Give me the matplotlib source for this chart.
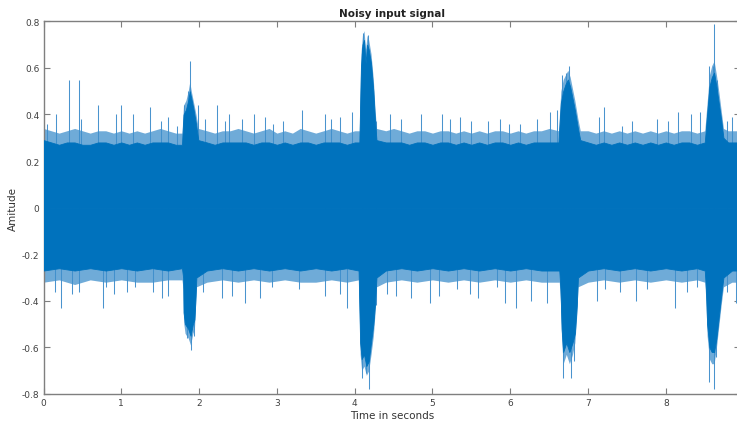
import matplotlib
matplotlib.use("Agg")
import matplotlib.pyplot as plt

# ---- data (seconds, amplitude) ----
# upper envelope of the dense noise band (dark core) and its spiky fringe
env_t_up = [0.0, 0.1, 0.2, 0.3, 0.4, 0.5, 0.6, 0.7, 0.8, 0.9, 1.0, 1.1, 1.2, 1.3, 1.4, 1.5, 1.6, 1.7, 1.78,
            1.80, 1.83, 1.86, 1.88, 1.90, 1.93, 1.96, 1.99,
            2.1, 2.2, 2.3, 2.4, 2.5, 2.6, 2.7, 2.8, 2.9, 3.0, 3.1, 3.2, 3.3, 3.4, 3.5, 3.6, 3.7, 3.8, 3.9, 4.0, 4.06,
            4.08, 4.10, 4.12, 4.14, 4.16, 4.18, 4.21, 4.24, 4.26, 4.28,
            4.4, 4.5, 4.6, 4.7, 4.8, 4.9, 5.0, 5.1, 5.2, 5.3, 5.4, 5.5, 5.6, 5.7, 5.8, 5.9, 6.0, 6.1, 6.2, 6.3, 6.4, 6.5, 6.62,
            6.65, 6.68, 6.71, 6.74, 6.77, 6.80, 6.83, 6.87, 6.90,
            7.0, 7.1, 7.2, 7.3, 7.4, 7.5, 7.6, 7.7, 7.8, 7.9, 8.0, 8.1, 8.2, 8.3, 8.4, 8.5,
            8.53, 8.56, 8.59, 8.62, 8.65, 8.68, 8.71, 8.74, 8.8, 8.9, 8.96]
env_up = [0.29, 0.28, 0.27, 0.28, 0.28, 0.27, 0.27, 0.28, 0.28, 0.27, 0.28, 0.27, 0.28, 0.27, 0.28, 0.28, 0.28, 0.27, 0.27,
          0.40, 0.42, 0.46, 0.50, 0.47, 0.42, 0.36, 0.29,
          0.28, 0.27, 0.28, 0.28, 0.28, 0.28, 0.27, 0.28, 0.28, 0.27, 0.28, 0.27, 0.28, 0.28, 0.27, 0.28, 0.28, 0.28, 0.27, 0.28, 0.28,
          0.60, 0.70, 0.72, 0.62, 0.70, 0.68, 0.62, 0.50, 0.38, 0.29,
          0.28, 0.28, 0.28, 0.27, 0.28, 0.28, 0.27, 0.28, 0.28, 0.27, 0.28, 0.27, 0.28, 0.27, 0.28, 0.28, 0.27, 0.28, 0.27, 0.28, 0.28, 0.28, 0.28,
          0.45, 0.50, 0.53, 0.55, 0.52, 0.47, 0.42, 0.34, 0.29,
          0.28, 0.27, 0.28, 0.27, 0.28, 0.27, 0.28, 0.27, 0.28, 0.27, 0.28, 0.27, 0.28, 0.28, 0.27, 0.28,
          0.40, 0.52, 0.56, 0.58, 0.52, 0.45, 0.38, 0.30, 0.28, 0.28, 0.28]
fringe_up = [0.34, 0.33, 0.32, 0.33, 0.34, 0.33, 0.32, 0.33, 0.33, 0.32, 0.33, 0.32, 0.33, 0.32, 0.33, 0.34, 0.33, 0.32, 0.32,
             0.44, 0.46, 0.50, 0.54, 0.50, 0.45, 0.40, 0.34,
             0.33, 0.32, 0.33, 0.33, 0.34, 0.33, 0.32, 0.33, 0.34, 0.32, 0.33, 0.32, 0.34, 0.33, 0.32, 0.33, 0.34, 0.33, 0.32, 0.33, 0.33,
             0.66, 0.74, 0.76, 0.68, 0.74, 0.72, 0.66, 0.55, 0.43, 0.34,
             0.33, 0.34, 0.33, 0.32, 0.33, 0.33, 0.32, 0.33, 0.33, 0.32, 0.33, 0.32, 0.33, 0.32, 0.33, 0.33, 0.32, 0.33, 0.32, 0.33, 0.33, 0.34, 0.33,
             0.50, 0.55, 0.57, 0.59, 0.56, 0.51, 0.46, 0.38, 0.33,
             0.33, 0.32, 0.33, 0.32, 0.33, 0.32, 0.33, 0.32, 0.33, 0.32, 0.33, 0.32, 0.33, 0.33, 0.32, 0.33,
             0.45, 0.57, 0.61, 0.63, 0.57, 0.50, 0.42, 0.34, 0.33, 0.33, 0.33]

# lower envelope of the noise band (dark core) and its spiky fringe
env_t_lo = [0.0, 0.2, 0.4, 0.6, 0.8, 1.0, 1.2, 1.4, 1.6, 1.78,
            1.795, 1.80, 1.82, 1.86, 1.89, 1.92, 1.94, 1.955, 1.965,
            2.1, 2.3, 2.5, 2.7, 2.9, 3.1, 3.3, 3.5, 3.7, 3.9, 4.05,
            4.07, 4.09, 4.12, 4.15, 4.18, 4.21, 4.24, 4.26, 4.28,
            4.4, 4.6, 4.8, 5.0, 5.2, 5.4, 5.6, 5.8, 6.0, 6.2, 6.4, 6.63,
            6.645, 6.66, 6.68, 6.72, 6.76, 6.80, 6.83, 6.855, 6.87,
            7.0, 7.2, 7.4, 7.6, 7.8, 8.0, 8.2, 8.4, 8.5,
            8.515, 8.53, 8.56, 8.59, 8.62, 8.65, 8.68, 8.71, 8.74,
            8.85, 8.96]
env_lo = [-0.27, -0.26, -0.27, -0.26, -0.27, -0.26, -0.27, -0.26, -0.27, -0.26,
          -0.30, -0.45, -0.50, -0.52, -0.55, -0.50, -0.48, -0.38, -0.30,
          -0.27, -0.26, -0.27, -0.26, -0.27, -0.26, -0.27, -0.26, -0.27, -0.26, -0.27,
          -0.58, -0.65, -0.63, -0.68, -0.66, -0.58, -0.50, -0.42, -0.30,
          -0.27, -0.26, -0.27, -0.26, -0.27, -0.26, -0.27, -0.26, -0.27, -0.26, -0.27, -0.27,
          -0.35, -0.52, -0.62, -0.58, -0.62, -0.58, -0.54, -0.42, -0.30,
          -0.27, -0.26, -0.27, -0.26, -0.27, -0.26, -0.27, -0.26, -0.27,
          -0.35, -0.50, -0.60, -0.62, -0.62, -0.56, -0.47, -0.38, -0.30,
          -0.27, -0.27]
fringe_lo = [-0.32, -0.31, -0.33, -0.31, -0.32, -0.31, -0.32, -0.32, -0.31, -0.31,
             -0.35, -0.49, -0.54, -0.56, -0.59, -0.54, -0.52, -0.42, -0.34,
             -0.32, -0.31, -0.32, -0.31, -0.32, -0.31, -0.32, -0.32, -0.31, -0.32, -0.31,
             -0.63, -0.70, -0.68, -0.72, -0.70, -0.63, -0.55, -0.46, -0.34,
             -0.32, -0.31, -0.32, -0.31, -0.32, -0.31, -0.32, -0.31, -0.32, -0.31, -0.32, -0.32,
             -0.40, -0.57, -0.67, -0.63, -0.67, -0.63, -0.58, -0.46, -0.34,
             -0.32, -0.31, -0.32, -0.31, -0.32, -0.31, -0.32, -0.31, -0.32,
             -0.40, -0.55, -0.65, -0.67, -0.67, -0.60, -0.51, -0.42, -0.34,
             -0.32, -0.32]

# isolated positive spikes
spk_up_t = [0.05, 0.16, 0.33, 0.45, 0.48, 0.70, 0.93, 0.99, 1.15, 1.37, 1.51, 1.60, 1.71,
            1.80, 1.86, 1.88, 1.99, 2.08, 2.23, 2.33, 2.38, 2.55, 2.70, 2.85, 2.95,
            3.08, 3.32, 3.62, 3.70, 3.81, 3.97, 4.09, 4.11, 4.17, 4.28, 4.46, 4.60, 4.85,
            5.12, 5.23, 5.36, 5.50, 5.72, 5.87, 5.99, 6.12, 6.35, 6.51, 6.60,
            6.66, 6.72, 6.75, 7.14, 7.20, 7.44, 7.56, 7.88, 8.03, 8.15, 8.32, 8.44,
            8.56, 8.61, 8.62, 8.66, 8.78, 8.85]
spk_up_v = [0.36, 0.40, 0.55, 0.55, 0.38, 0.44, 0.40, 0.44, 0.40, 0.43, 0.37, 0.39, 0.35,
            0.44, 0.50, 0.63, 0.44, 0.38, 0.44, 0.37, 0.40, 0.38, 0.40, 0.39, 0.36,
            0.37, 0.42, 0.40, 0.38, 0.39, 0.41, 0.69, 0.75, 0.74, 0.37, 0.40, 0.38, 0.40,
            0.40, 0.38, 0.39, 0.37, 0.37, 0.38, 0.36, 0.36, 0.38, 0.41, 0.42,
            0.57, 0.58, 0.61, 0.39, 0.43, 0.35, 0.37, 0.38, 0.37, 0.41, 0.40, 0.41,
            0.61, 0.61, 0.79, 0.55, 0.37, 0.39]

# isolated negative spikes
spk_lo_t = [0.15, 0.23, 0.37, 0.45, 0.77, 0.80, 0.90, 1.07, 1.17, 1.41, 1.52, 1.60,
            1.84, 1.90, 1.94, 2.05, 2.29, 2.42, 2.59, 2.78, 2.94, 3.28, 3.62, 3.81, 3.90,
            4.09, 4.15, 4.19, 4.27, 4.41, 4.53, 4.73, 4.97, 5.08, 5.32, 5.48, 5.59, 5.83, 5.93,
            6.07, 6.27, 6.47, 6.68, 6.78, 6.82, 7.11, 7.22, 7.41, 7.62, 7.76, 8.12, 8.27, 8.40,
            8.56, 8.62, 8.65, 8.78, 8.90]
spk_lo_v = [-0.36, -0.43, -0.37, -0.36, -0.43, -0.34, -0.37, -0.36, -0.34, -0.36, -0.39, -0.38,
            -0.56, -0.61, -0.55, -0.36, -0.39, -0.38, -0.41, -0.39, -0.34, -0.35, -0.38, -0.37, -0.43,
            -0.73, -0.71, -0.78, -0.42, -0.37, -0.38, -0.39, -0.41, -0.38, -0.35, -0.37, -0.39, -0.34, -0.41,
            -0.43, -0.40, -0.41, -0.73, -0.73, -0.66, -0.40, -0.35, -0.36, -0.40, -0.35, -0.43, -0.36, -0.34,
            -0.75, -0.78, -0.64, -0.36, -0.41]

x_ticks = [0, 1, 2, 3, 4, 5, 6, 7, 8]
y_ticks = [-0.8, -0.6, -0.4, -0.2, 0, 0.2, 0.4, 0.6, 0.8]
y_tick_labels = ["-0.8", "-0.6", "-0.4", "-0.2", "0", "0.2", "0.4", "0.6", "0.8"]

# ---- drawing ----
BLUE = "#0072BD"
FRINGE = "#3f8fcc"
SPIKE = "#4a94ce"
GREY = "#7f7f7f"
TXT = "#404040"

plt.rcParams["font.family"] = ["DejaVu Sans"]
fig = plt.figure(figsize=(7.37, 4.27), dpi=100)
W, H = 737.0, 427.0
ax = fig.add_axes([43.5 / W, (H - 395.0) / H, (740.0 - 43.5) / W, (395.0 - 22.3) / H])

ax.vlines(spk_up_t, 0, spk_up_v, color=SPIKE, linewidth=0.75, zorder=2)
ax.vlines(spk_lo_t, spk_lo_v, 0, color=SPIKE, linewidth=0.75, zorder=2)
ax.fill_between(env_t_up, 0, fringe_up, color=FRINGE, alpha=0.75, linewidth=0, zorder=2.5)
ax.fill_between(env_t_lo, fringe_lo, 0, color=FRINGE, alpha=0.75, linewidth=0, zorder=2.5)
ax.fill_between(env_t_up, 0, env_up, color=BLUE, linewidth=0.6, edgecolor=BLUE, zorder=3)
ax.fill_between(env_t_lo, env_lo, 0, color=BLUE, linewidth=0.6, edgecolor=BLUE, zorder=3)

ax.set_xlim(0, 8.953)
ax.set_ylim(-0.8, 0.8)
ax.set_xticks(x_ticks)
ax.set_xticklabels([str(v) for v in x_ticks])
ax.set_yticks(y_ticks)
ax.set_yticklabels(y_tick_labels)

for s in ax.spines.values():
    s.set_color(GREY)
    s.set_linewidth(1.0)
ax.tick_params(direction="in", length=4, width=0.8, colors=GREY, labelcolor=TXT,
               labelsize=6.5, top=True, right=True, pad=3)

ax.set_title("Noisy input signal", fontsize=7.5, fontweight="bold", color="#222222", pad=4)
ax.set_xlabel("Time in seconds", fontsize=7.5, color="#333333", labelpad=2)
ax.set_ylabel("Amitude", fontsize=7.5, color="#333333", labelpad=3)

fig.savefig("out.png", dpi=100)
